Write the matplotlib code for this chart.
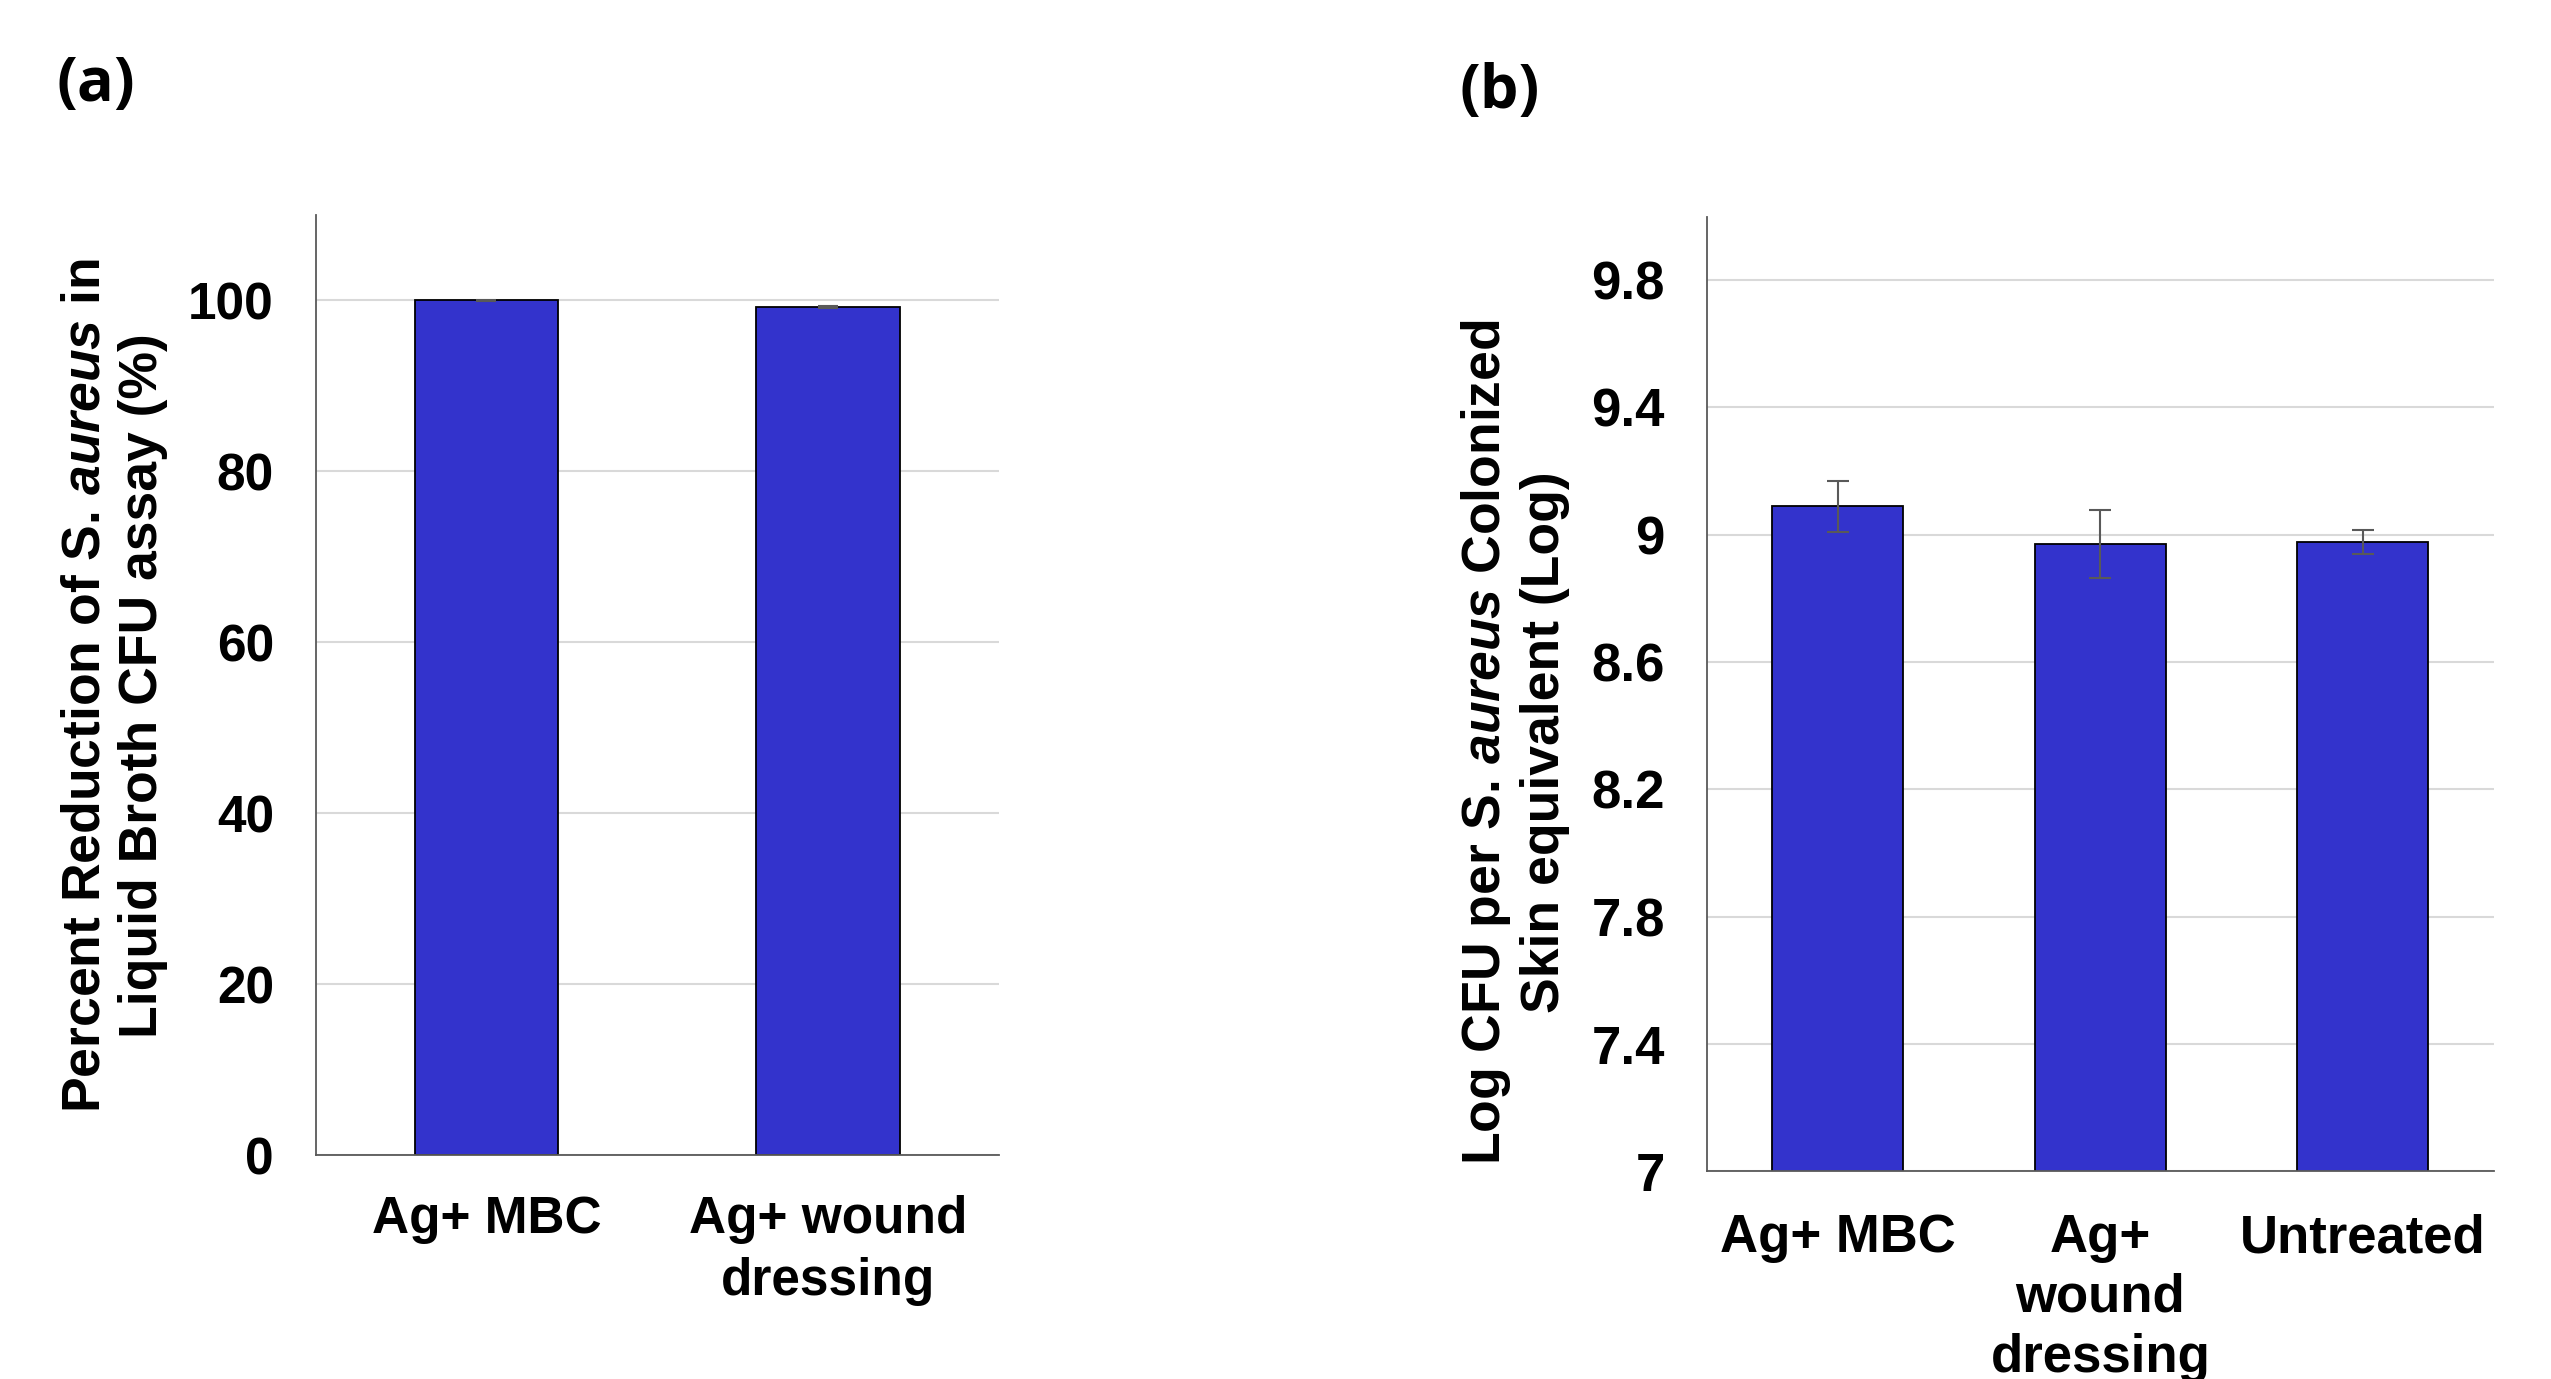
import matplotlib
matplotlib.use("Agg")
import matplotlib.pyplot as plt
from matplotlib import font_manager as fm

# ---------------- data ----------------
cats_a = ["Ag+ MBC", "Ag+ wound\ndressing"]
vals_a = [100.0, 99.2]
errs_a = [0.05, 0.08]
yticks_a = [0, 20, 40, 60, 80, 100]

cats_b = ["Ag+ MBC", "Ag+\nwound\ndressing", "Untreated"]
vals_b = [9.09, 8.97, 8.978]
errs_b = [0.08, 0.107, 0.038]
yticks_b = [7, 7.4, 7.8, 8.2, 8.6, 9, 9.4, 9.8]
yticklabels_b = ["7", "7.4", "7.8", "8.2", "8.6", "9", "9.4", "9.8"]

# ---------------- fonts ----------------
names = {f.name for f in fm.fontManager.ttflist}
REG = "Liberation Sans" if "Liberation Sans" in names else "DejaVu Sans"
PANEL = "Open Sans" if "Open Sans" in names else REG

plt.rcParams["mathtext.fontset"] = "custom"
plt.rcParams["mathtext.it"] = f"{REG}:italic:bold"
plt.rcParams["mathtext.rm"] = f"{REG}:bold"

BAR = "#3333CC"
GRID = "#d9d9d9"
SPINE = "#595959"
ERR = "#595959"

fig = plt.figure(figsize=(25.51, 13.79), dpi=100)

def style(ax):
    for s in ["top", "right"]:
        ax.spines[s].set_visible(False)
    for s in ["left", "bottom"]:
        ax.spines[s].set_color(SPINE)
        ax.spines[s].set_linewidth(1.3)
    ax.yaxis.grid(True, color=GRID, linewidth=1.5)
    ax.set_axisbelow(True)
    ax.tick_params(axis="both", length=0)

# ---------------- panel (a) ----------------
ax1 = fig.add_axes([0.1237, 0.1624, 0.2679, 0.6818])
x_a = list(range(len(cats_a)))
ax1.bar(x_a, vals_a, width=0.42, color=BAR, edgecolor="black", linewidth=1.3,
        yerr=errs_a, capsize=7, error_kw=dict(ecolor=ERR, elinewidth=1.5, capthick=1.5))
ax1.set_xlim(-0.5, 1.5)
ax1.set_ylim(0, 110)
ax1.set_yticks(yticks_a)
ax1.set_xticks(x_a)
ax1.set_xticklabels(cats_a, fontfamily=REG, fontweight="bold", fontsize=37, linespacing=1.33)
ax1.set_yticklabels([str(t) for t in yticks_a], fontfamily=REG, fontweight="bold", fontsize=37)
style(ax1)
ax1.tick_params(axis="y", pad=30)
ax1.tick_params(axis="x", pad=29)

fig.text(0.0447, 0.503,
         "Percent Reduction of S. $\\mathit{aureus}$ in\nLiquid Broth CFU assay (%)",
         rotation=90, ha="center", va="center", multialignment="center",
         fontfamily=REG, fontweight="bold", fontsize=38.5, linespacing=1.18)

# ---------------- panel (b) ----------------
ax2 = fig.add_axes([0.669, 0.1505, 0.3087, 0.6925])
x_b = list(range(len(cats_b)))
ax2.bar(x_b, vals_b, width=0.5, color=BAR, edgecolor="black", linewidth=1.3,
        yerr=errs_b, capsize=8, error_kw=dict(ecolor=ERR, elinewidth=1.5, capthick=1.5))
ax2.set_xlim(-0.5, 2.5)
ax2.set_ylim(7, 10)
ax2.set_yticks(yticks_b)
ax2.set_yticklabels(yticklabels_b, fontfamily=REG, fontweight="bold", fontsize=38)
ax2.set_xticks(x_b)
ax2.set_xticklabels(cats_b, fontfamily=REG, fontweight="bold", fontsize=38, linespacing=1.25)
style(ax2)
ax2.tick_params(axis="y", pad=30)
ax2.tick_params(axis="x", pad=30)

fig.text(0.5938, 0.462,
         "Log CFU per S. $\\mathit{aureus}$ Colonized\nSkin equivalent (Log)",
         rotation=90, ha="center", va="center", multialignment="center",
         fontfamily=REG, fontweight="bold", fontsize=38.5, linespacing=1.18)

# ---------------- panel labels ----------------
fig.text(0.0223, 0.938, "(a)", ha="left", va="center", fontfamily=PANEL,
         fontweight="bold", fontsize=44)
fig.text(0.572, 0.933, "(b)", ha="left", va="center", fontfamily=PANEL,
         fontweight="bold", fontsize=44)

fig.savefig("out.png", dpi=100, facecolor="white")
